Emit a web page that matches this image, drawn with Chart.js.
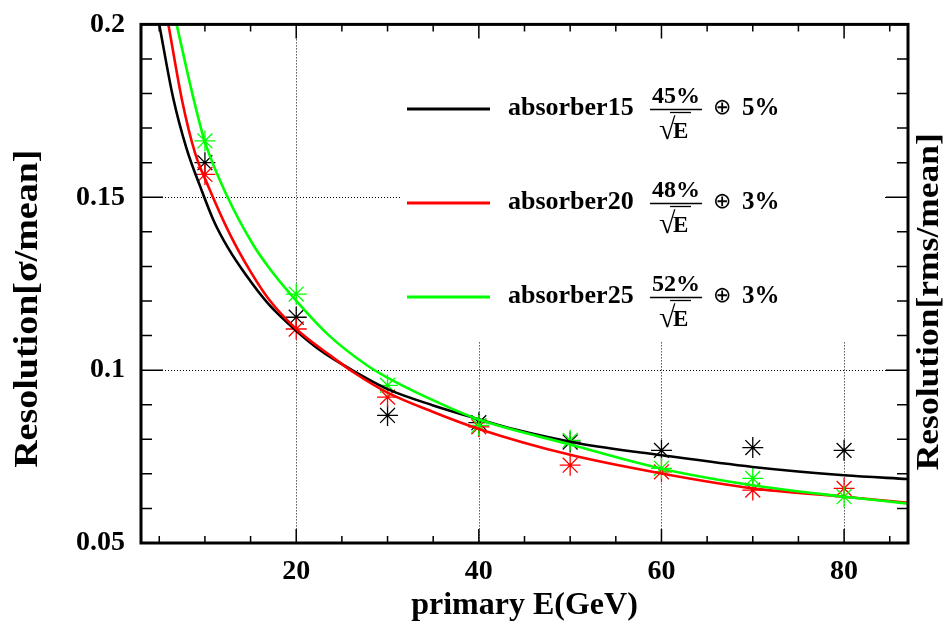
<!DOCTYPE html>
<html><head><meta charset="utf-8">
<script src="https://cdn.jsdelivr.net/npm/chart.js@4/dist/chart.umd.min.js"></script>
<style>html,body{margin:0;padding:0;background:#fff;}#wrap{width:944px;height:627px;}</style>
</head><body><div id="wrap"><canvas id="c" width="944" height="627"></canvas></div>
<script>
// ---- data ----
const markerE = [10, 20, 30, 40, 50, 60, 70, 80];
const points15 = [0.1600, 0.1153, 0.0869, 0.0848, 0.0792, 0.0768, 0.0776, 0.0768];
const points20 = [0.1566, 0.1119, 0.0922, 0.0836, 0.0725, 0.0706, 0.0653, 0.0658];
const points25 = [0.1663, 0.1220, 0.0956, 0.0840, 0.0797, 0.0716, 0.0687, 0.0634];

const fit15E = [5.0, 6.5, 8.0, 9.5, 11.0, 12.5, 14.5, 17.0, 20.0, 22.5, 26.5, 30.0, 35.0, 40.0, 44.0, 51.0, 60.0, 70.0, 80.0, 87.0];
const fit15R = [0.200, 0.179, 0.164, 0.153, 0.143, 0.1355, 0.1275, 0.1190, 0.1114, 0.1060, 0.0994, 0.0945, 0.0898, 0.0858, 0.0828, 0.0788, 0.0754, 0.0720, 0.0696, 0.0685];
const fit20E = [6.0, 7.5, 8.9, 10.4, 12.8, 15.0, 17.0, 20.0, 23.7, 26.6, 30.0, 35.0, 40.0, 50.0, 60.0, 70.0, 80.0, 87.0];
const fit20R = [0.200, 0.178, 0.163, 0.153, 0.139, 0.1285, 0.1205, 0.1119, 0.1043, 0.0988, 0.0935, 0.0879, 0.0830, 0.0755, 0.0701, 0.0658, 0.0634, 0.0616];
const fit25E = [6.9, 8.8, 10.0, 12.4, 15.3, 17.0, 19.3, 23.4, 27.7, 30.7, 35.8, 40.0, 50.0, 60.0, 70.0, 80.0, 87.0];
const fit25R = [0.200, 0.178, 0.166, 0.1505, 0.1362, 0.1297, 0.1222, 0.1105, 0.1015, 0.0968, 0.0903, 0.0857, 0.0785, 0.0715, 0.0667, 0.0634, 0.0614];

const seriesNames = ['absorber15', 'absorber20', 'absorber25'];
const stochTerms = ['45%', '48%', '52%'];
const constTerms = ['5%', '3%', '3%'];
const seriesColors = ['#000000', '#ff0000', '#00ff00'];

const xTickVals = [20, 40, 60, 80];
const yTickVals = [0.05, 0.1, 0.15, 0.2];
const xMinorStep = 5;
const yMinorStep = 0.01;

const xTitle = 'primary E(GeV)';
const yTitle = 'Resolution[σ/mean]';
const y2Title = 'Resolution[rms/mean]';

// ---- build ----
const SERIF = '"Liberation Serif", "Times New Roman", serif';
const pts = (xs, ys) => xs.map((v, i) => ({x: v, y: ys[i]}));

const fits = [[fit15E, fit15R], [fit20E, fit20R], [fit25E, fit25R]];
const marks = [points15, points20, points25];

const datasets = [];
fits.forEach((f, i) => {
  datasets.push({
    label: seriesNames[i] + ' fit', data: pts(f[0], f[1]), borderColor: seriesColors[i],
    borderWidth: 2.6, pointRadius: 0, fill: false, cubicInterpolationMode: 'monotone',
    order: 2 - i, yAxisID: 'y'
  });
});
marks.forEach((m, i) => {
  datasets.push({
    label: seriesNames[i], data: pts(markerE, m), showLine: false, pointStyle: 'star',
    pointRadius: 10.5, pointBorderWidth: 1.3, borderColor: seriesColors[i], backgroundColor: seriesColors[i],
    order: 5 - i, yAxisID: 'y'
  });
});

function frange(a, b, s) { const r = []; for (let v = a; v <= b + 1e-9; v += s) r.push(+v.toFixed(4)); return r; }

function rotatedTitle(ctx, text, cx, cy, size, squash) {
  ctx.save();
  ctx.fillStyle = '#000';
  ctx.font = 'bold ' + size + 'px ' + SERIF;
  ctx.translate(cx, cy);
  ctx.rotate(-Math.PI / 2);
  ctx.scale(1, squash);
  ctx.textAlign = 'center'; ctx.textBaseline = 'alphabetic';
  ctx.fillText(text, 0, 0);
  ctx.restore();
}

const decor = {
  id: 'decor',
  beforeDatasetsDraw(chart) {
    const {ctx, chartArea: a, scales: {x, y}} = chart;
    ctx.save();
    ctx.strokeStyle = '#000'; ctx.lineWidth = 1; ctx.setLineDash([1, 2]);
    xTickVals.forEach(v => {
      const px = Math.round(x.getPixelForValue(v)) + 0.5;
      ctx.beginPath(); ctx.moveTo(px, a.top); ctx.lineTo(px, a.bottom); ctx.stroke();
    });
    yTickVals.forEach(v => {
      const py = Math.round(y.getPixelForValue(v)) + 0.5;
      ctx.beginPath(); ctx.moveTo(a.left, py); ctx.lineTo(a.right, py); ctx.stroke();
    });
    ctx.setLineDash([]);
    // legend background
    ctx.fillStyle = '#fff';
    ctx.fillRect(400, a.top + 2, 484, 315);
    ctx.restore();
  },
  afterDatasetsDraw(chart) {
    const {ctx, chartArea: a, scales: {x, y}} = chart;
    ctx.save();
    // legend
    for (let i = 0; i < 3; i++) {
      const y0 = 109 + 94 * i;
      ctx.strokeStyle = seriesColors[i]; ctx.lineWidth = 3;
      ctx.beginPath(); ctx.moveTo(407, y0); ctx.lineTo(490, y0); ctx.stroke();
      ctx.fillStyle = '#000'; ctx.textBaseline = 'alphabetic';
      ctx.font = 'bold 26px ' + SERIF; ctx.textAlign = 'left';
      ctx.fillText(seriesNames[i], 508, y0 + 6);
      ctx.font = 'bold 24px ' + SERIF; ctx.textAlign = 'center';
      ctx.fillText(stochTerms[i], 676, y0 - 6);
      ctx.lineWidth = 1.5; ctx.strokeStyle = '#000';
      ctx.beginPath(); ctx.moveTo(650, y0 + 0.5); ctx.lineTo(702, y0 + 0.5); ctx.stroke();
      ctx.textAlign = 'left';
      ctx.font = 'bold 30px ' + SERIF;
      ctx.fillText('√', 659, y0 + 30);
      ctx.font = 'bold 23px ' + SERIF;
      ctx.fillText('E', 673, y0 + 29);
      ctx.lineWidth = 1.3;
      ctx.beginPath(); ctx.moveTo(670, y0 + 3.5); ctx.lineTo(691, y0 + 3.5); ctx.stroke();
      ctx.font = '22px "DejaVu Sans", sans-serif';
      ctx.fillText('⊕', 713, y0 + 5);
      ctx.font = 'bold 25px ' + SERIF;
      ctx.fillText(constTerms[i], 742, y0 + 6);
    }
    // frame
    ctx.strokeStyle = '#000'; ctx.lineWidth = 3;
    ctx.strokeRect(a.left, a.top, a.right - a.left, a.bottom - a.top);
    ctx.lineWidth = 1.5;
    frange(5, 85, xMinorStep).forEach(v => {
      const len = xTickVals.includes(v) ? 14 : 7;
      const px = x.getPixelForValue(v);
      ctx.beginPath(); ctx.moveTo(px, a.bottom); ctx.lineTo(px, a.bottom - len);
      ctx.moveTo(px, a.top); ctx.lineTo(px, a.top + len); ctx.stroke();
    });
    frange(0.06, 0.19, yMinorStep).forEach(v => {
      const major = yTickVals.some(t => Math.abs(t - v) < 1e-6);
      const len = major ? 22 : 11;
      const py = y.getPixelForValue(v);
      ctx.beginPath(); ctx.moveTo(a.left, py); ctx.lineTo(a.left + len, py);
      ctx.moveTo(a.right, py); ctx.lineTo(a.right - len, py); ctx.stroke();
    });
    ctx.restore();
    // axis titles (vertical)
    const mid = (a.top + a.bottom) / 2;
    rotatedTitle(ctx, yTitle, 37, mid + 25, 38, 0.88);
    rotatedTitle(ctx, y2Title, 938, mid + 18, 35.5, 0.88);
  }
};

const xTickFont = {family: SERIF, size: 28, weight: 'bold'};
const yTickFont = {family: SERIF, size: 28, weight: 'bold', lineHeight: 0.6};
const titleFont = {family: SERIF, size: 32, weight: 'bold'};

new Chart(document.getElementById('c'), {
  type: 'line',
  data: {datasets},
  options: {
    responsive: false, animation: false, devicePixelRatio: 1,
    layout: {padding: {top: 23, left: 0, right: 0, bottom: 0}},
    plugins: {legend: {display: false}, tooltip: {enabled: false}},
    scales: {
      x: {
        type: 'linear', min: 3, max: 87,
        afterBuildTicks: s => { s.ticks = xTickVals.map(v => ({value: v})); },
        ticks: {font: xTickFont, color: '#000', padding: 12, maxRotation: 0, autoSkip: false},
        grid: {display: false, drawTicks: false}, border: {display: false},
        title: {display: true, text: xTitle, font: titleFont, color: '#000', padding: {top: 0, bottom: 2}},
        afterFit: s => { s.height = 84; }
      },
      y: {
        type: 'linear', position: 'left', min: 0.05, max: 0.2,
        afterBuildTicks: s => { s.ticks = yTickVals.map(v => ({value: v})); },
        ticks: {font: yTickFont, color: '#000', padding: 16, callback: v => String(v)},
        grid: {display: false, drawTicks: false}, border: {display: false},
        title: {display: false, text: yTitle},
        afterFit: s => { s.width = 141; }
      },
      y2: {
        type: 'linear', position: 'right', min: 0.05, max: 0.2,
        ticks: {display: false}, grid: {display: false, drawTicks: false}, border: {display: false},
        title: {display: false, text: y2Title},
        afterFit: s => { s.width = 36; }
      }
    }
  },
  plugins: [decor]
});
</script>
</body></html>
